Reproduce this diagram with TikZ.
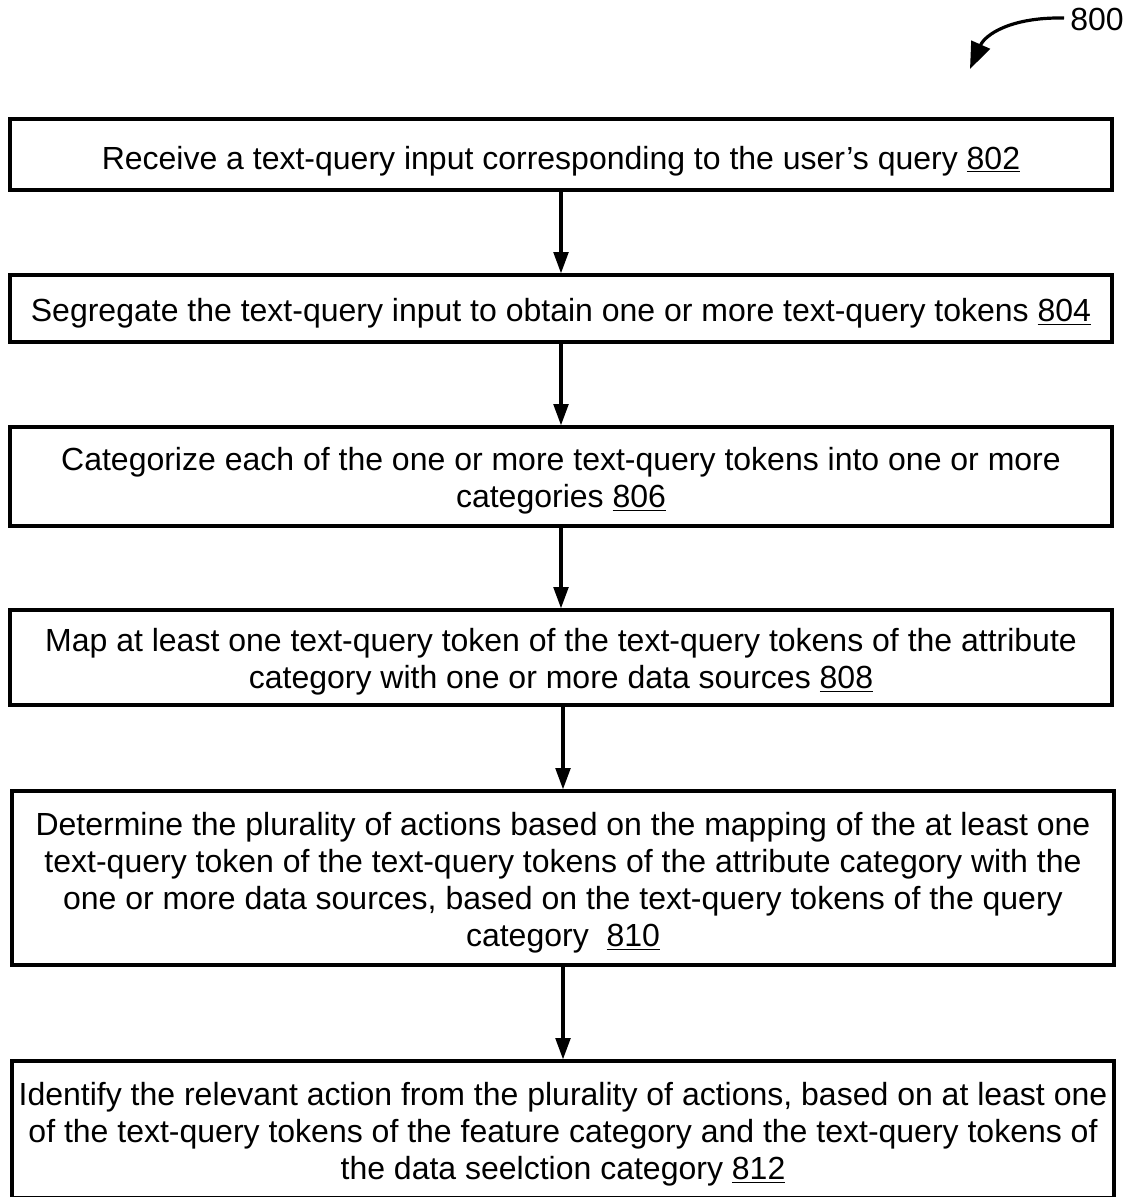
\documentclass[tikz,border=0pt]{standalone}
\usepackage{fontspec}
\setmainfont{Liberation Sans}
\usetikzlibrary{arrows.meta}
\tikzset{
  stepbox/.style={draw, line width=2.4pt, minimum width=826.5pt, inner sep=0pt},
  steptext/.style={align=center, inner sep=0pt, font=\fontsize{24pt}{27.75pt}\selectfont},
  flow/.style={line width=2.4pt, -{Triangle[length=16pt,width=11pt]}},
}
\begin{document}
\begin{tikzpicture}[x=0.75pt,y=-0.75pt]
\useasboundingbox (0,0) rectangle (1128,1197);
\node[stepbox, minimum height=53.25pt] (b1) at (561,154.5) {};
\node[stepbox, minimum height=50.25pt] (b2) at (561,308.5) {};
\node[stepbox, minimum height=74.25pt] (b3) at (561,476.5) {};
\node[stepbox, minimum height=71.25pt] (b4) at (561,657.5) {};
\node[stepbox, minimum height=130.5pt] (b5) at (563,878) {};
\node[stepbox, minimum height=102.75pt] (b6) at (563,1129.5) {};
\node[steptext] (t1) at ([yshift=-5pt]b1.center)
  {Receive a text-query input corresponding to the user’s query \underline{802}};
\node[steptext] (t2) at ([yshift=-3.75pt]b2.center)
  {Segregate the text-query input to obtain one or more text-query tokens \underline{804}};
\node[steptext] (t3) at ([yshift=-3.5pt]b3.center)
  {Categorize each of the one or more text-query tokens into one or more\\categories \underline{806}};
\node[steptext] (t4) at ([yshift=-3.5pt]b4.center)
  {Map at least one text-query token of the text-query tokens of the attribute\\category with one or more data sources \underline{808}};
\node[steptext] (t5) at ([yshift=-3.75pt]b5.center)
  {Determine the plurality of actions based on the mapping of the at least one\\text-query token of the text-query tokens of the attribute category with the\\one or more data sources, based on the text-query tokens of the query\\category\ \ \underline{810}};
\node[steptext] (t6) at ([yshift=-3.75pt]b6.center)
  {Identify the relevant action from the plurality of actions, based on at least one\\of the text-query tokens of the feature category and the text-query tokens of\\the data seelction category \underline{812}};
\draw[flow] (b1.south) -- (b2.north);
\draw[flow] (b2.south) -- (b3.north);
\draw[flow] (b3.south) -- (b4.north);
\draw[flow] (b5.north |- b4.south) -- (b5.north);
\draw[flow] (b5.south) -- (b6.north);
\node[font=\fontsize{24pt}{27pt}\selectfont, inner sep=0pt, anchor=west] (lbl) at (1070,19) {800};
\coordinate (tip) at (970,69);
\draw[line width=2.4pt, -{Triangle[length=20pt,width=15pt]}] (lbl.west) ++(-6,-1) .. controls (1010,17) and (985,35) .. (tip);
\end{tikzpicture}
\end{document}
